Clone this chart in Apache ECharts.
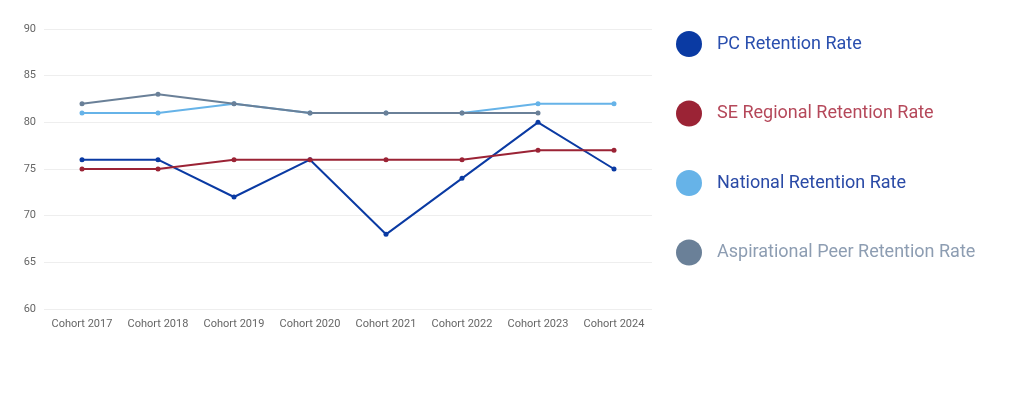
<!DOCTYPE html>
<html><head><meta charset="utf-8">
<script src="https://cdn.jsdelivr.net/npm/echarts@6/dist/echarts.min.js"></script>
<style>html,body{margin:0;padding:0;background:#fff}#c{width:1024px;height:410px}</style>
</head><body><div id="c"></div>
<script>
const categories = ['Cohort 2017','Cohort 2018','Cohort 2019','Cohort 2020','Cohort 2021','Cohort 2022','Cohort 2023','Cohort 2024'];
const pcRate = [76,76,72,76,68,74,80,75];
const seRate = [75,75,76,76,76,76,77,77];
const nationalRate = [81,81,82,81,81,81,82,82];
const aspirationalRate = [82,83,82,81,81,81,81,null];
const yTicks = {min:60, max:90, interval:5};

const names = ['PC Retention Rate','SE Regional Retention Rate','National Retention Rate','Aspirational Peer Retention Rate'];
const lineColors = ['#0a3aa3','#9b2335','#66b3e8','#6a8098'];
const textColors = ['#2a4fae','#b5485a','#2a4aa6','#8d9db2'];
const dataSets = [pcRate, seRate, nationalRate, aspirationalRate];
const zOrder = [3,4,2,5];
const legendFont = "Roboto, sans-serif";

const chart = echarts.init(document.getElementById('c'));
chart.setOption({
  animation:false,
  grid:{left:44,right:372,top:29,bottom:101},
  legend:{
    orient:'vertical', left:671, top:26, icon:'circle', itemWidth:26, itemHeight:26, itemGap:43.5,
    data:names.map((n,i)=>({name:n, textStyle:{color:textColors[i], fontSize:18, fontFamily:legendFont, padding:[0,0,0,10]}})),
    selectedMode:false
  },
  xAxis:{type:'category', data:categories, boundaryGap:true,
    axisLine:{show:false}, axisTick:{show:false},
    axisLabel:{color:'#666', fontSize:11, margin:10, interval:0, fontFamily:'Roboto, sans-serif'}},
  yAxis:{type:'value', min:yTicks.min, max:yTicks.max, interval:yTicks.interval,
    axisLabel:{color:'#666', fontSize:11, margin:8, fontFamily:'Roboto, sans-serif'},
    splitLine:{lineStyle:{color:'#eeeeee'}}},
  series:names.map((n,i)=>({
    name:n, type:'line', data:dataSets[i], symbol:'circle', symbolSize:5,
    itemStyle:{color:lineColors[i]}, lineStyle:{color:lineColors[i], width:2}, z:zOrder[i]
  }))
});
</script></body></html>
